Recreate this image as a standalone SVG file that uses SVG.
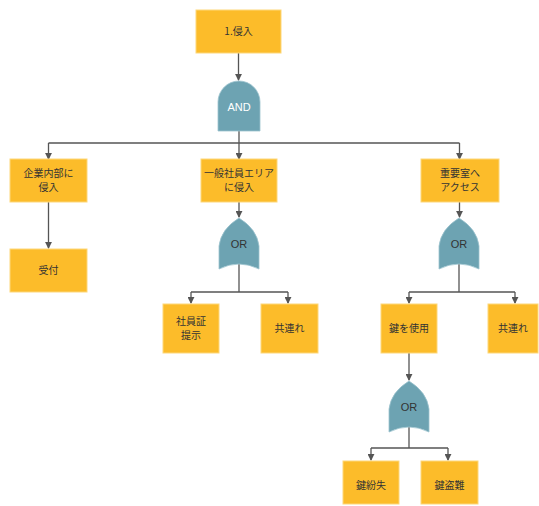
<svg xmlns="http://www.w3.org/2000/svg" width="539" height="506" viewBox="0 0 539 506">
<defs>
<style>
.box{fill:#FCBC2A;stroke:#FDD77A;stroke-width:1}
.gate{fill:#6DA3B2;stroke:#9CC3CE;stroke-width:0.8}
.t{font-family:"Noto Sans CJK JP","Liberation Sans",sans-serif;font-size:10px;fill:#333;text-anchor:middle}
.gt{font-family:"Liberation Sans","Noto Sans",sans-serif;font-size:11px;text-anchor:middle}
.ln{fill:none;stroke:#555;stroke-width:1.3}
</style>
<marker id="ah" viewBox="0 0 8 8" refX="7" refY="4" markerWidth="7" markerHeight="7" markerUnits="userSpaceOnUse" orient="auto">
<path d="M0,0 L8,4 L0,8 Z" fill="#555"/>
</marker>
<path id="orshape" d="M0,51 L0,28 Q2,11 20,0 Q38,11 40,28 L40,51 Q20,41 0,51 Z"/>
</defs>
<g id="connectors">
<path class="ln" d="M238.5,53 V80" marker-end="url(#ah)"/>
<path class="ln" d="M239,131 V143"/>
<path class="ln" d="M48.5,143 H459.5"/>
<path class="ln" d="M48.5,143 V159" marker-end="url(#ah)"/>
<path class="ln" d="M239,143 V159" marker-end="url(#ah)"/>
<path class="ln" d="M459.5,143 V159" marker-end="url(#ah)"/>
<path class="ln" d="M48.5,202 V248" marker-end="url(#ah)"/>
<path class="ln" d="M239,202 V217" marker-end="url(#ah)"/>
<path class="ln" d="M239,264 V292"/>
<path class="ln" d="M191,292 H288"/>
<path class="ln" d="M191,292 V303" marker-end="url(#ah)"/>
<path class="ln" d="M288,292 V303" marker-end="url(#ah)"/>
<path class="ln" d="M459.5,202 V217" marker-end="url(#ah)"/>
<path class="ln" d="M459,264 V292"/>
<path class="ln" d="M409,292 H515"/>
<path class="ln" d="M409,292 V303" marker-end="url(#ah)"/>
<path class="ln" d="M515,292 V303" marker-end="url(#ah)"/>
<path class="ln" d="M409,353 V380" marker-end="url(#ah)"/>
<path class="ln" d="M409,427 V448"/>
<path class="ln" d="M371,448 H448"/>
<path class="ln" d="M371,448 V460" marker-end="url(#ah)"/>
<path class="ln" d="M448,448 V460" marker-end="url(#ah)"/>
</g>
<g id="n1"><rect class="box" x="196" y="10" width="85" height="43"/><text class="t" x="238.5" y="35">1.侵入</text></g>
<g id="and1"><path class="gate" d="M218,131 V102 A21,21 0 0 1 260,102 V131 Z"/><text class="gt" x="239" y="111" fill="#fff">AND</text></g>
<g id="n2"><rect class="box" x="10" y="159" width="77" height="43"/><text class="t" x="48.5" y="177">企業内部に</text><text class="t" x="48.5" y="191">侵入</text></g>
<g id="n3"><rect class="box" x="10" y="249" width="77" height="43"/><text class="t" x="48.5" y="274">受付</text></g>
<g id="n4"><rect class="box" x="201" y="159" width="76" height="43"/><text class="t" x="239" y="177">一般社員エリア</text><text class="t" x="239" y="191">に侵入</text></g>
<g id="or1"><use href="#orshape" class="gate" x="219" y="218"/><text class="gt" x="239" y="248" fill="#333">OR</text></g>
<g id="n5"><rect class="box" x="163" y="304" width="56" height="49"/><text class="t" x="191" y="325">社員証</text><text class="t" x="191" y="339">提示</text></g>
<g id="n6"><rect class="box" x="261" y="304" width="57" height="49"/><text class="t" x="289.5" y="332">共連れ</text></g>
<g id="n7"><rect class="box" x="421" y="159" width="78" height="43"/><text class="t" x="460" y="177">重要室へ</text><text class="t" x="460" y="191">アクセス</text></g>
<g id="or2"><use href="#orshape" class="gate" x="439" y="218"/><text class="gt" x="459" y="248" fill="#333">OR</text></g>
<g id="n8"><rect class="box" x="381" y="304" width="56" height="49"/><text class="t" x="409" y="332">鍵を使用</text></g>
<g id="n9"><rect class="box" x="488" y="304" width="50" height="49"/><text class="t" x="513" y="332">共連れ</text></g>
<g id="or3"><use href="#orshape" class="gate" x="389" y="381"/><text class="gt" x="409" y="411" fill="#333">OR</text></g>
<g id="n10"><rect class="box" x="343" y="461" width="56" height="43"/><text class="t" x="371" y="489">鍵紛失</text></g>
<g id="n11"><rect class="box" x="421" y="461" width="57" height="43"/><text class="t" x="449.5" y="489">鍵盗難</text></g>
</svg>
